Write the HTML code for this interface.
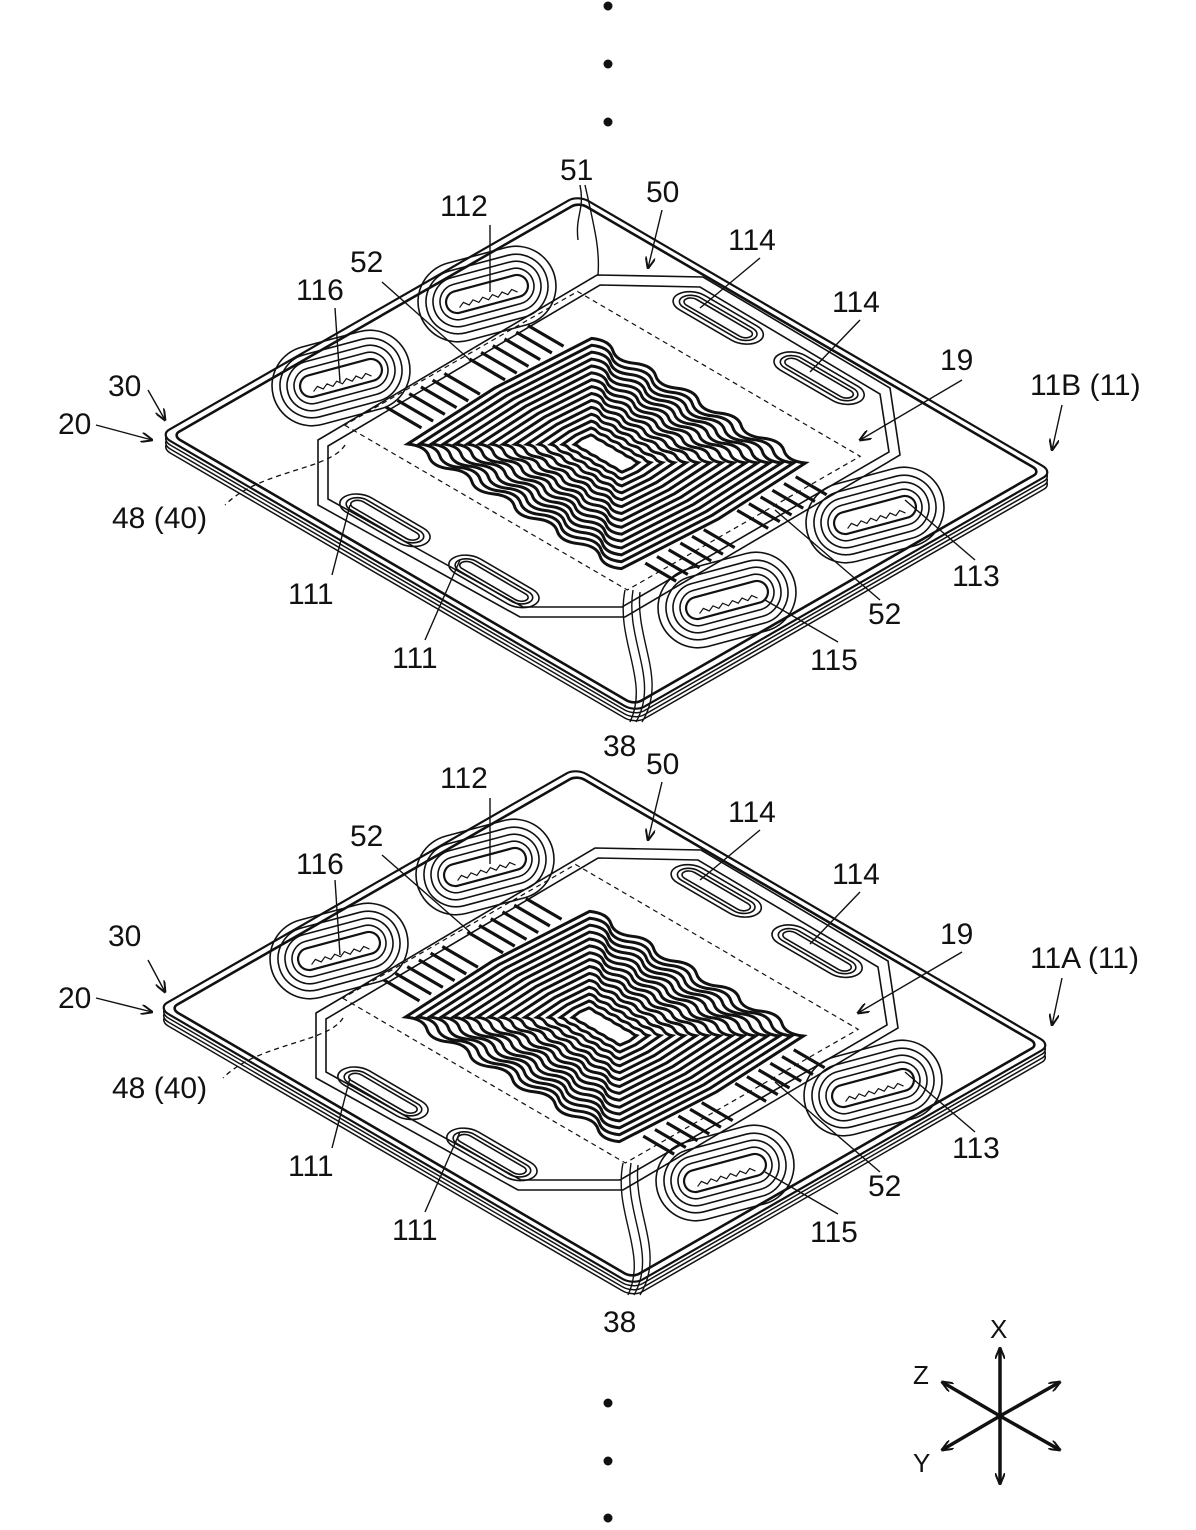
<!DOCTYPE html>
<html><head><meta charset="utf-8"><style>
html,body{margin:0;padding:0;background:#fff}
svg{display:block}
text{font-family:"Liberation Sans",sans-serif;font-size:30px;fill:#111}
</style></head><body>
<svg width="1196" height="1530" viewBox="0 0 1196 1530" xmlns="http://www.w3.org/2000/svg">
<defs>
<marker id="ah" markerWidth="12" markerHeight="10" refX="11" refY="5" orient="auto" markerUnits="userSpaceOnUse">
<path d="M0,0 L12,5 L0,10" fill="none" stroke="#111" stroke-width="2"/></marker>
<g id="stad" fill="none" stroke="#111" stroke-width="1.6">
<rect x="-70" y="-40" width="140" height="80" rx="40"/>
<rect x="-62" y="-32" width="124" height="64" rx="32"/>
<rect x="-55" y="-25" width="110" height="50" rx="25"/>
<rect x="-48" y="-18" width="96" height="36" rx="18"/>
<rect x="-42" y="-11" width="84" height="22" rx="11" stroke-width="2.2"/>
<path d="M-30,6 L-25,2 L-20,6 L-15,2 L-10,6 L-5,2 L0,6 L5,2 L10,6 L15,2 L20,6 L25,2 L30,6" stroke-width="1.2"/>
</g>
<g id="slotSmall" fill="none" stroke="#111" stroke-width="1.6">
<rect x="-85" y="-30" width="170" height="60" rx="30" vector-effect="non-scaling-stroke"/>
<rect x="-75" y="-20" width="150" height="40" rx="20" vector-effect="non-scaling-stroke"/>
<rect x="-68" y="-12" width="136" height="24" rx="12" vector-effect="non-scaling-stroke"/>
</g>
<path id="loop" fill="none" stroke="#111" stroke-width="3" vector-effect="non-scaling-stroke"
d="M-250,220 Q-225,238 -200,220 T-150,220 T-100,220 T-50,220 T0,220 T50,220 T100,220 T150,220 T200,220 T250,220 L262,0 L250,-220 Q225,-238 200,-220 T150,-220 T100,-220 T50,-220 T0,-220 T-50,-220 T-100,-220 T-150,-220 T-200,-220 T-250,-220 L-262,0 Z"/>
<g id="plate">
<g transform="translate(0,12)"><g transform="matrix(0.475,0.277,0.418,-0.240,160,435)">
<rect x="0" y="0" width="1000" height="1000" rx="22" fill="#fff" stroke="#111" stroke-width="1.5" vector-effect="non-scaling-stroke"/></g></g>
<g transform="translate(0,8)"><g transform="matrix(0.475,0.277,0.418,-0.240,160,435)">
<rect x="0" y="0" width="1000" height="1000" rx="22" fill="#fff" stroke="#111" stroke-width="1.5" vector-effect="non-scaling-stroke"/></g></g>
<g transform="translate(0,4)"><g transform="matrix(0.475,0.277,0.418,-0.240,160,435)">
<rect x="0" y="0" width="1000" height="1000" rx="22" fill="#fff" stroke="#111" stroke-width="1.5" vector-effect="non-scaling-stroke"/></g></g>
<g transform="matrix(0.475,0.277,0.418,-0.240,160,435)" fill="none" stroke="#111">
<rect x="0" y="0" width="1000" height="1000" rx="22" fill="#fff" stroke-width="2.2" vector-effect="non-scaling-stroke"/>
<rect x="14" y="14" width="972" height="972" rx="16" stroke-width="2.6" vector-effect="non-scaling-stroke"/>
<use href="#slotSmall" transform="translate(390,95)"/>
<use href="#slotSmall" transform="translate(615,100)"/>
<use href="#slotSmall" transform="translate(370,915)"/>
<use href="#slotSmall" transform="translate(585,912)"/>
<path d="M175,243 L770,243 L770,800 L175,800 Z" stroke-width="1.2" stroke-dasharray="5,4" vector-effect="non-scaling-stroke"/>
<g stroke-width="3.2">
<path d="M185,330 L260,330 M185,358 L260,358 M185,386 L260,386 M185,414 L260,414 M185,442 L260,442 M185,470 L260,470 M185,530 L260,530 M185,558 L260,558 M185,586 L260,586 M185,614 L260,614 M185,642 L260,642 M185,670 L260,670" vector-effect="non-scaling-stroke"/>
<path d="M740,320 L805,320 M740,348 L805,348 M740,376 L805,376 M740,404 L805,404 M740,432 L805,432 M740,460 L805,460 M740,540 L805,540 M740,568 L805,568 M740,596 L805,596 M740,624 L805,624 M740,652 L805,652 M740,680 L805,680" vector-effect="non-scaling-stroke"/>
</g>
<g transform="translate(500,500)">
<use href="#loop" transform="scale(0.9,1)"/>
<use href="#loop" transform="scale(0.85,0.935)"/>
<use href="#loop" transform="scale(0.80,0.87)"/>
<use href="#loop" transform="scale(0.75,0.805)"/>
<use href="#loop" transform="scale(0.70,0.74)"/>
<use href="#loop" transform="scale(0.65,0.675)"/>
<use href="#loop" transform="scale(0.60,0.61)"/>
<use href="#loop" transform="scale(0.55,0.545)"/>
<use href="#loop" transform="scale(0.50,0.48)"/>
<use href="#loop" transform="scale(0.45,0.415)"/>
<use href="#loop" transform="scale(0.40,0.35)"/>
<use href="#loop" transform="scale(0.35,0.285)"/>
<use href="#loop" transform="scale(0.30,0.22)"/>
<use href="#loop" transform="scale(0.25,0.155)"/>
<use href="#loop" transform="scale(0.20,0.09)"/>
</g>
</g>
<path d="M597,275 L703,277 L890,388 L900,455 L625,617 L520,617 L318,505 L318,440 Z" fill="none" stroke="#111" stroke-width="1.6"/>
<path d="M600,285 L700,287 L880,394 L889,452 L622,607 L523,607 L328,499 L328,446 Z" fill="none" stroke="#111" stroke-width="1.6"/>
<use href="#stad" transform="translate(341,378) rotate(-15)"/>
<use href="#stad" transform="translate(487,294) rotate(-15)"/>
<use href="#stad" transform="translate(875,515) rotate(-15)"/>
<use href="#stad" transform="translate(727,600) rotate(-15)"/>
<path d="M625,590 C615,640 650,680 630,722 M633,590 C625,640 660,680 636,722 M640,592 C635,640 668,680 642,722" fill="none" stroke="#111" stroke-width="1.4"/>
<path d="M345,445 C330,470 260,470 225,505" fill="none" stroke="#111" stroke-width="1.3" stroke-dasharray="5,4"/>
</g>
</defs>

<use href="#plate"/>
<use href="#plate" transform="translate(-2,573)"/>

<g fill="#111">
<circle cx="608" cy="6" r="4.5"/><circle cx="608" cy="64" r="4.5"/><circle cx="608" cy="122" r="4.5"/>
<circle cx="608" cy="1403" r="4.5"/><circle cx="608" cy="1461" r="4.5"/><circle cx="608" cy="1518" r="4.5"/>
</g>

<g fill="none" stroke="#111" stroke-width="1.4">
<path d="M580,185 C585,210 575,215 578,240 M585,185 C595,230 600,250 598,275"/>
<path d="M662,210 L648,268" marker-end="url(#ah)"/>
<path d="M96,425 L152,440" marker-end="url(#ah)"/>
<path d="M148,390 L165,420" marker-end="url(#ah)"/>
<path d="M1062,405 L1052,450" marker-end="url(#ah)"/>
<path d="M962,380 L860,440" marker-end="url(#ah)"/>
<path d="M490,225 L490,292"/>
<path d="M335,308 L340,382"/>
<path d="M382,282 L470,360"/>
<path d="M760,258 L700,308"/>
<path d="M860,320 L810,372"/>
<path d="M332,575 L350,505"/>
<path d="M425,640 L460,560"/>
<path d="M975,560 L905,500"/>
<path d="M880,600 L775,510"/>
<path d="M838,642 L765,600"/>
<path d="M96,998 L152,1012" marker-end="url(#ah)"/>
<path d="M148,960 L165,992" marker-end="url(#ah)"/>
<path d="M1062,978 L1052,1025" marker-end="url(#ah)"/>
<path d="M962,952 L858,1013" marker-end="url(#ah)"/>
<path d="M662,782 L648,840" marker-end="url(#ah)"/>
<path d="M490,798 L490,864"/>
<path d="M335,880 L340,955"/>
<path d="M382,855 L470,932"/>
<path d="M760,830 L700,880"/>
<path d="M860,892 L810,944"/>
<path d="M332,1148 L350,1078"/>
<path d="M425,1212 L460,1132"/>
<path d="M975,1132 L905,1072"/>
<path d="M880,1172 L775,1082"/>
<path d="M838,1214 L765,1172"/>
</g>

<text x="560" y="180">51</text>
<text x="646" y="202">50</text>
<text x="440" y="216">112</text>
<text x="728" y="250">114</text>
<text x="350" y="272">52</text>
<text x="296" y="300">116</text>
<text x="832" y="312">114</text>
<text x="940" y="370">19</text>
<text x="108" y="396">30</text>
<text x="1030" y="395">11B (11)</text>
<text x="58" y="434">20</text>
<text x="112" y="528">48 (40)</text>
<text x="288" y="604">111</text>
<text x="952" y="586">113</text>
<text x="868" y="624">52</text>
<text x="392" y="668">111</text>
<text x="810" y="670">115</text>
<text x="603" y="756">38</text>
<text x="646" y="774">50</text>
<text x="440" y="788">112</text>
<text x="728" y="822">114</text>
<text x="350" y="846">52</text>
<text x="296" y="874">116</text>
<text x="832" y="884">114</text>
<text x="940" y="944">19</text>
<text x="108" y="946">30</text>
<text x="1030" y="968">11A (11)</text>
<text x="58" y="1008">20</text>
<text x="112" y="1098">48 (40)</text>
<text x="288" y="1176">111</text>
<text x="952" y="1158">113</text>
<text x="868" y="1196">52</text>
<text x="392" y="1240">111</text>
<text x="810" y="1242">115</text>
<text x="603" y="1332">38</text>

<g fill="none" stroke="#111" stroke-width="3.5">
<path d="M1000,1416 L1000,1348" marker-end="url(#ah)"/>
<path d="M1000,1416 L1000,1484" marker-end="url(#ah)"/>
<path d="M1000,1416 L942,1382" marker-end="url(#ah)"/>
<path d="M1000,1416 L1060,1450" marker-end="url(#ah)"/>
<path d="M1000,1416 L1060,1382" marker-end="url(#ah)"/>
<path d="M1000,1416 L942,1450" marker-end="url(#ah)"/>
</g>
<text x="990" y="1338" style="font-size:26px">X</text>
<text x="913" y="1384" style="font-size:26px">Z</text>
<text x="913" y="1472" style="font-size:26px">Y</text>
</svg>
</body></html>
